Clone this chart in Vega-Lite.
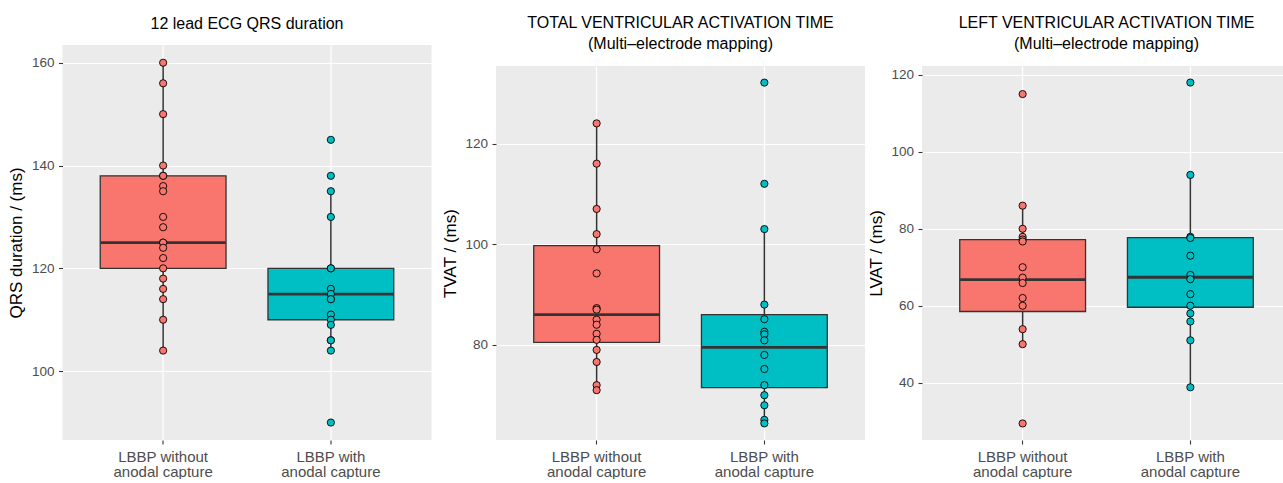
{
  "$schema": "https://vega.github.io/schema/vega-lite/v6.json",
  "padding": {"left": 7.5, "top": 15, "right": 0, "bottom": 0},
  "background": "white",
  "datasets": {
    "pts": [
      {"panel": "QRS", "group": "LBBP without anodal capture", "value": 160},
      {"panel": "QRS", "group": "LBBP without anodal capture", "value": 156},
      {"panel": "QRS", "group": "LBBP without anodal capture", "value": 150},
      {"panel": "QRS", "group": "LBBP without anodal capture", "value": 140},
      {"panel": "QRS", "group": "LBBP without anodal capture", "value": 138},
      {"panel": "QRS", "group": "LBBP without anodal capture", "value": 138},
      {"panel": "QRS", "group": "LBBP without anodal capture", "value": 136},
      {"panel": "QRS", "group": "LBBP without anodal capture", "value": 135},
      {"panel": "QRS", "group": "LBBP without anodal capture", "value": 130},
      {"panel": "QRS", "group": "LBBP without anodal capture", "value": 128},
      {"panel": "QRS", "group": "LBBP without anodal capture", "value": 125},
      {"panel": "QRS", "group": "LBBP without anodal capture", "value": 125},
      {"panel": "QRS", "group": "LBBP without anodal capture", "value": 124},
      {"panel": "QRS", "group": "LBBP without anodal capture", "value": 122},
      {"panel": "QRS", "group": "LBBP without anodal capture", "value": 120},
      {"panel": "QRS", "group": "LBBP without anodal capture", "value": 118},
      {"panel": "QRS", "group": "LBBP without anodal capture", "value": 116},
      {"panel": "QRS", "group": "LBBP without anodal capture", "value": 114},
      {"panel": "QRS", "group": "LBBP without anodal capture", "value": 110},
      {"panel": "QRS", "group": "LBBP without anodal capture", "value": 104},
      {"panel": "QRS", "group": "LBBP with anodal capture", "value": 145},
      {"panel": "QRS", "group": "LBBP with anodal capture", "value": 138},
      {"panel": "QRS", "group": "LBBP with anodal capture", "value": 135},
      {"panel": "QRS", "group": "LBBP with anodal capture", "value": 130},
      {"panel": "QRS", "group": "LBBP with anodal capture", "value": 120},
      {"panel": "QRS", "group": "LBBP with anodal capture", "value": 120},
      {"panel": "QRS", "group": "LBBP with anodal capture", "value": 116},
      {"panel": "QRS", "group": "LBBP with anodal capture", "value": 115},
      {"panel": "QRS", "group": "LBBP with anodal capture", "value": 114},
      {"panel": "QRS", "group": "LBBP with anodal capture", "value": 114},
      {"panel": "QRS", "group": "LBBP with anodal capture", "value": 111},
      {"panel": "QRS", "group": "LBBP with anodal capture", "value": 110},
      {"panel": "QRS", "group": "LBBP with anodal capture", "value": 109},
      {"panel": "QRS", "group": "LBBP with anodal capture", "value": 106},
      {"panel": "QRS", "group": "LBBP with anodal capture", "value": 106},
      {"panel": "QRS", "group": "LBBP with anodal capture", "value": 104},
      {"panel": "QRS", "group": "LBBP with anodal capture", "value": 90},
      {"panel": "TVAT", "group": "LBBP without anodal capture", "value": 124},
      {"panel": "TVAT", "group": "LBBP without anodal capture", "value": 116},
      {"panel": "TVAT", "group": "LBBP without anodal capture", "value": 107},
      {"panel": "TVAT", "group": "LBBP without anodal capture", "value": 102},
      {"panel": "TVAT", "group": "LBBP without anodal capture", "value": 99},
      {"panel": "TVAT", "group": "LBBP without anodal capture", "value": 94.2},
      {"panel": "TVAT", "group": "LBBP without anodal capture", "value": 87.3},
      {"panel": "TVAT", "group": "LBBP without anodal capture", "value": 87},
      {"panel": "TVAT", "group": "LBBP without anodal capture", "value": 85},
      {"panel": "TVAT", "group": "LBBP without anodal capture", "value": 84},
      {"panel": "TVAT", "group": "LBBP without anodal capture", "value": 82.2},
      {"panel": "TVAT", "group": "LBBP without anodal capture", "value": 81},
      {"panel": "TVAT", "group": "LBBP without anodal capture", "value": 79},
      {"panel": "TVAT", "group": "LBBP without anodal capture", "value": 76.6},
      {"panel": "TVAT", "group": "LBBP without anodal capture", "value": 72},
      {"panel": "TVAT", "group": "LBBP without anodal capture", "value": 71},
      {"panel": "TVAT", "group": "LBBP with anodal capture", "value": 132.1},
      {"panel": "TVAT", "group": "LBBP with anodal capture", "value": 112},
      {"panel": "TVAT", "group": "LBBP with anodal capture", "value": 103},
      {"panel": "TVAT", "group": "LBBP with anodal capture", "value": 88},
      {"panel": "TVAT", "group": "LBBP with anodal capture", "value": 85.1},
      {"panel": "TVAT", "group": "LBBP with anodal capture", "value": 82.6},
      {"panel": "TVAT", "group": "LBBP with anodal capture", "value": 82.1},
      {"panel": "TVAT", "group": "LBBP with anodal capture", "value": 80.9},
      {"panel": "TVAT", "group": "LBBP with anodal capture", "value": 78},
      {"panel": "TVAT", "group": "LBBP with anodal capture", "value": 75.2},
      {"panel": "TVAT", "group": "LBBP with anodal capture", "value": 72},
      {"panel": "TVAT", "group": "LBBP with anodal capture", "value": 70},
      {"panel": "TVAT", "group": "LBBP with anodal capture", "value": 68},
      {"panel": "TVAT", "group": "LBBP with anodal capture", "value": 65.1},
      {"panel": "TVAT", "group": "LBBP with anodal capture", "value": 64.4},
      {"panel": "LVAT", "group": "LBBP without anodal capture", "value": 115},
      {"panel": "LVAT", "group": "LBBP without anodal capture", "value": 86},
      {"panel": "LVAT", "group": "LBBP without anodal capture", "value": 80},
      {"panel": "LVAT", "group": "LBBP without anodal capture", "value": 77.9},
      {"panel": "LVAT", "group": "LBBP without anodal capture", "value": 77.2},
      {"panel": "LVAT", "group": "LBBP without anodal capture", "value": 76.7},
      {"panel": "LVAT", "group": "LBBP without anodal capture", "value": 70},
      {"panel": "LVAT", "group": "LBBP without anodal capture", "value": 67.3},
      {"panel": "LVAT", "group": "LBBP without anodal capture", "value": 65.9},
      {"panel": "LVAT", "group": "LBBP without anodal capture", "value": 62},
      {"panel": "LVAT", "group": "LBBP without anodal capture", "value": 60},
      {"panel": "LVAT", "group": "LBBP without anodal capture", "value": 53.9},
      {"panel": "LVAT", "group": "LBBP without anodal capture", "value": 50},
      {"panel": "LVAT", "group": "LBBP without anodal capture", "value": 29.4},
      {"panel": "LVAT", "group": "LBBP with anodal capture", "value": 118},
      {"panel": "LVAT", "group": "LBBP with anodal capture", "value": 94},
      {"panel": "LVAT", "group": "LBBP with anodal capture", "value": 77.9},
      {"panel": "LVAT", "group": "LBBP with anodal capture", "value": 77.6},
      {"panel": "LVAT", "group": "LBBP with anodal capture", "value": 73},
      {"panel": "LVAT", "group": "LBBP with anodal capture", "value": 68},
      {"panel": "LVAT", "group": "LBBP with anodal capture", "value": 66.9},
      {"panel": "LVAT", "group": "LBBP with anodal capture", "value": 63},
      {"panel": "LVAT", "group": "LBBP with anodal capture", "value": 60},
      {"panel": "LVAT", "group": "LBBP with anodal capture", "value": 58},
      {"panel": "LVAT", "group": "LBBP with anodal capture", "value": 55.9},
      {"panel": "LVAT", "group": "LBBP with anodal capture", "value": 51},
      {"panel": "LVAT", "group": "LBBP with anodal capture", "value": 38.8}
    ],
    "box": [
      {"panel": "QRS", "group": "LBBP without anodal capture", "lower": 104, "q1": 120, "median": 125, "q3": 138, "upper": 160},
      {"panel": "QRS", "group": "LBBP with anodal capture", "lower": 104, "q1": 110, "median": 115, "q3": 120, "upper": 135},
      {"panel": "TVAT", "group": "LBBP without anodal capture", "lower": 71, "q1": 80.5, "median": 86, "q3": 99.7, "upper": 124},
      {"panel": "TVAT", "group": "LBBP with anodal capture", "lower": 64.4, "q1": 71.5, "median": 79.5, "q3": 86, "upper": 103},
      {"panel": "LVAT", "group": "LBBP without anodal capture", "lower": 50, "q1": 58.5, "median": 66.8, "q3": 77.2, "upper": 86},
      {"panel": "LVAT", "group": "LBBP with anodal capture", "lower": 38.8, "q1": 59.6, "median": 67.4, "q3": 77.7, "upper": 94}
    ]
  },
  "spacing": 1.5,
  "hconcat": [
    {
      "spacing": 9.5,
      "hconcat": [
        {
          "width": 369,
          "height": 395,
          "title": {"text": "12 lead ECG QRS duration", "offset": 13.3},
          "layer": [
            {
              "data": {"name": "box"},
              "transform": [{"filter": "datum.panel == 'QRS'"}],
              "mark": {"type": "rule", "color": "#333333", "strokeWidth": 1.5},
              "encoding": {
                "x": {"field": "group", "type": "nominal", "scale": {"type": "band", "domain": ["LBBP without anodal capture", "LBBP with anodal capture"], "paddingInner": 0.25, "paddingOuter": 0.225}, "axis": {"title": null, "grid": true, "bandPosition": 0.5, "labelExpr": "datum.value == 'LBBP without anodal capture' ? ['LBBP without', 'anodal capture'] : ['LBBP with', 'anodal capture']"}},
                "y": {"field": "lower", "type": "quantitative", "scale": {"domain": [86.6, 163.45], "nice": false, "zero": false}, "axis": {"title": "QRS duration / (ms)", "values": [100, 120, 140, 160], "grid": true}},
                "y2": {"field": "upper"}
              }
            },
            {
              "data": {"name": "box"},
              "transform": [{"filter": "datum.panel == 'QRS'"}],
              "mark": {"type": "bar", "stroke": "#333333", "strokeWidth": 1.3, "opacity": 1},
              "encoding": {
                "x": {"field": "group", "type": "nominal"},
                "y": {"field": "q1", "type": "quantitative"},
                "y2": {"field": "q3"},
                "fill": {"field": "group", "type": "nominal", "scale": {"domain": ["LBBP without anodal capture", "LBBP with anodal capture"], "range": ["#F8766D", "#00BFC4"]}, "legend": null}
              }
            },
            {
              "data": {"name": "box"},
              "transform": [{"filter": "datum.panel == 'QRS'"}],
              "mark": {"type": "tick", "color": "#333333", "thickness": 2.8, "size": 125, "opacity": 1},
              "encoding": {
                "x": {"field": "group", "type": "nominal"},
                "y": {"field": "median", "type": "quantitative"}
              }
            },
            {
              "data": {"name": "pts"},
              "transform": [{"filter": "datum.panel == 'QRS'"}],
              "mark": {"type": "circle", "size": 52, "stroke": "black", "strokeWidth": 0.9, "opacity": 1},
              "encoding": {
                "x": {"field": "group", "type": "nominal"},
                "y": {"field": "value", "type": "quantitative"},
                "fill": {"field": "group", "type": "nominal", "legend": null}
              }
            }
          ]
        },
        {
          "spacing": 0,
          "vconcat": [
            {
              "width": 369,
              "height": 21,
              "view": {"fill": "white", "stroke": null},
              "title": {"text": ["TOTAL VENTRICULAR ACTIVATION TIME", "(Multi–electrode mapping)"], "offset": -7.5},
              "data": {"name": "box"},
              "transform": [{"filter": "datum.panel == 'TVAT'"}],
              "mark": {"type": "rule", "opacity": 0, "strokeOpacity": 0},
              "encoding": {}
            },
            {
              "width": 369,
              "height": 374,
              "layer": [
                {
                  "data": {"name": "box"},
                  "transform": [{"filter": "datum.panel == 'TVAT'"}],
                  "mark": {"type": "rule", "color": "#333333", "strokeWidth": 1.5},
                  "encoding": {
                    "x": {"field": "group", "type": "nominal", "scale": {"type": "band", "domain": ["LBBP without anodal capture", "LBBP with anodal capture"], "paddingInner": 0.25, "paddingOuter": 0.225}, "axis": {"title": null, "grid": true, "bandPosition": 0.5, "labelExpr": "datum.value == 'LBBP without anodal capture' ? ['LBBP without', 'anodal capture'] : ['LBBP with', 'anodal capture']"}},
                    "y": {"field": "lower", "type": "quantitative", "scale": {"domain": [61.1, 135.4], "nice": false, "zero": false}, "axis": {"title": "TVAT / (ms)", "values": [80, 100, 120], "grid": true}},
                    "y2": {"field": "upper"}
                  }
                },
                {
                  "data": {"name": "box"},
                  "transform": [{"filter": "datum.panel == 'TVAT'"}],
                  "mark": {"type": "bar", "stroke": "#333333", "strokeWidth": 1.3, "opacity": 1},
                  "encoding": {
                    "x": {"field": "group", "type": "nominal"},
                    "y": {"field": "q1", "type": "quantitative"},
                    "y2": {"field": "q3"},
                    "fill": {"field": "group", "type": "nominal", "scale": {"domain": ["LBBP without anodal capture", "LBBP with anodal capture"], "range": ["#F8766D", "#00BFC4"]}, "legend": null}
                  }
                },
                {
                  "data": {"name": "box"},
                  "transform": [{"filter": "datum.panel == 'TVAT'"}],
                  "mark": {"type": "tick", "color": "#333333", "thickness": 2.8, "size": 125, "opacity": 1},
                  "encoding": {
                    "x": {"field": "group", "type": "nominal"},
                    "y": {"field": "median", "type": "quantitative"}
                  }
                },
                {
                  "data": {"name": "pts"},
                  "transform": [{"filter": "datum.panel == 'TVAT'"}],
                  "mark": {"type": "circle", "size": 52, "stroke": "black", "strokeWidth": 0.9, "opacity": 1},
                  "encoding": {
                    "x": {"field": "group", "type": "nominal"},
                    "y": {"field": "value", "type": "quantitative"},
                    "fill": {"field": "group", "type": "nominal", "legend": null}
                  }
                }
              ]
            }
          ]
        }
      ]
    },
    {
      "spacing": 0,
      "vconcat": [
        {
          "width": 369,
          "height": 21,
          "view": {"fill": "white", "stroke": null},
          "title": {"text": ["LEFT VENTRICULAR ACTIVATION TIME", "(Multi–electrode mapping)"], "offset": -7.5},
          "data": {"name": "box"},
          "transform": [{"filter": "datum.panel == 'LVAT'"}],
          "mark": {"type": "rule", "opacity": 0, "strokeOpacity": 0},
          "encoding": {}
        },
        {
          "width": 369,
          "height": 374,
          "layer": [
            {
              "data": {"name": "box"},
              "transform": [{"filter": "datum.panel == 'LVAT'"}],
              "mark": {"type": "rule", "color": "#333333", "strokeWidth": 1.5},
              "encoding": {
                "x": {"field": "group", "type": "nominal", "scale": {"type": "band", "domain": ["LBBP without anodal capture", "LBBP with anodal capture"], "paddingInner": 0.25, "paddingOuter": 0.225}, "axis": {"title": null, "grid": true, "bandPosition": 0.5, "labelExpr": "datum.value == 'LBBP without anodal capture' ? ['LBBP without', 'anodal capture'] : ['LBBP with', 'anodal capture']"}},
                "y": {"field": "lower", "type": "quantitative", "scale": {"domain": [25.1, 122.3], "nice": false, "zero": false}, "axis": {"title": "LVAT / (ms)", "values": [40, 60, 80, 100, 120], "grid": true}},
                "y2": {"field": "upper"}
              }
            },
            {
              "data": {"name": "box"},
              "transform": [{"filter": "datum.panel == 'LVAT'"}],
              "mark": {"type": "bar", "stroke": "#333333", "strokeWidth": 1.3, "opacity": 1},
              "encoding": {
                "x": {"field": "group", "type": "nominal"},
                "y": {"field": "q1", "type": "quantitative"},
                "y2": {"field": "q3"},
                "fill": {"field": "group", "type": "nominal", "scale": {"domain": ["LBBP without anodal capture", "LBBP with anodal capture"], "range": ["#F8766D", "#00BFC4"]}, "legend": null}
              }
            },
            {
              "data": {"name": "box"},
              "transform": [{"filter": "datum.panel == 'LVAT'"}],
              "mark": {"type": "tick", "color": "#333333", "thickness": 2.8, "size": 125, "opacity": 1},
              "encoding": {
                "x": {"field": "group", "type": "nominal"},
                "y": {"field": "median", "type": "quantitative"}
              }
            },
            {
              "data": {"name": "pts"},
              "transform": [{"filter": "datum.panel == 'LVAT'"}],
              "mark": {"type": "circle", "size": 52, "stroke": "black", "strokeWidth": 0.9, "opacity": 1},
              "encoding": {
                "x": {"field": "group", "type": "nominal"},
                "y": {"field": "value", "type": "quantitative"},
                "fill": {"field": "group", "type": "nominal", "legend": null}
              }
            }
          ]
        }
      ]
    }
  ],
  "config": {
    "font": "Liberation Sans",
    "view": {"fill": "#EBEBEB", "stroke": null},
    "title": {"fontSize": 16, "fontWeight": "normal", "color": "black", "anchor": "middle", "frame": "group", "offset": 13, "lineHeight": 21},
    "axis": {"domain": false, "tickColor": "#333333", "tickSize": 4, "tickWidth": 1.1, "labelColor": "#4D4D4D", "gridColor": "white", "gridWidth": 1.2, "gridOpacity": 1, "titleFontWeight": "normal", "titleColor": "black", "titleFontSize": 17},
    "axisY": {"labelFontSize": 13.5, "labelPadding": 4.5, "titlePadding": 5.5},
    "axisX": {"labelFontSize": 15, "labelPadding": 5, "labelLineHeight": 15, "labelAngle": 0}
  }
}
